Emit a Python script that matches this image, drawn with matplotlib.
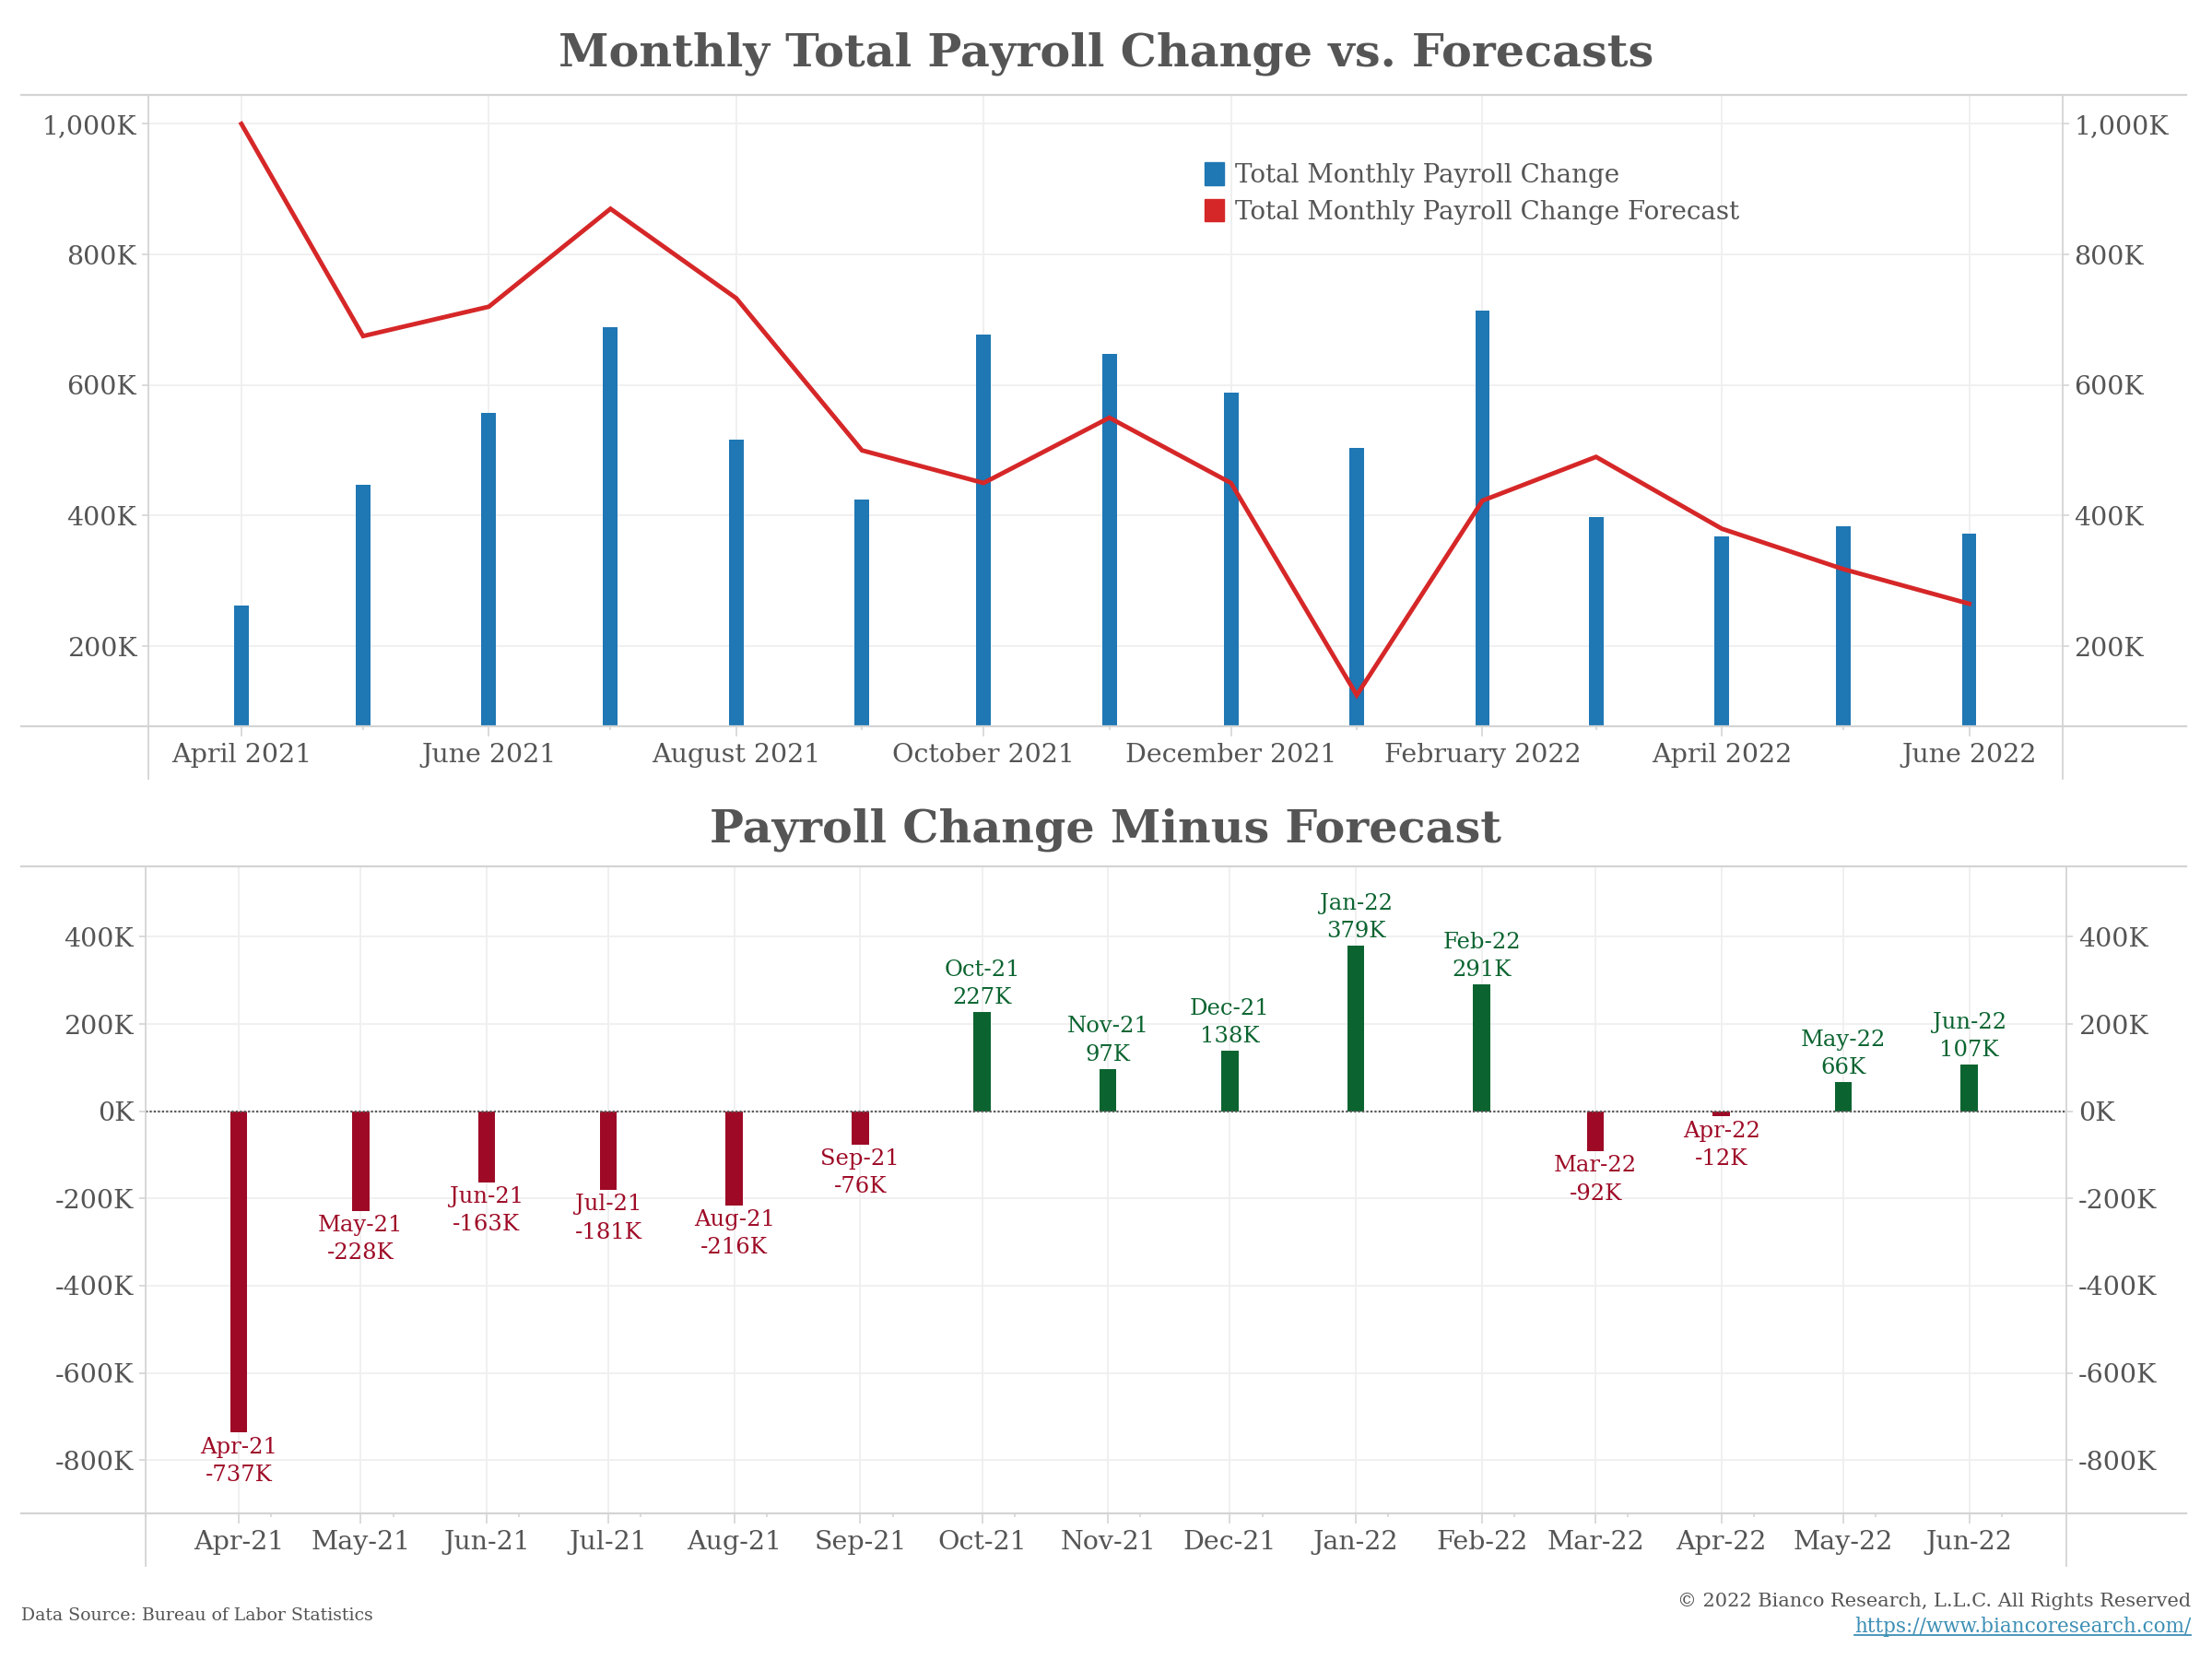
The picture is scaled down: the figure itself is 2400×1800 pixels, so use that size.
import datetime as dt
import matplotlib
matplotlib.use('Agg')
import matplotlib.pyplot as plt
import matplotlib.dates as mdates
from matplotlib.patches import Patch
from matplotlib.lines import Line2D
from matplotlib.ticker import FuncFormatter

plt.rcParams['font.family'] = ['DejaVu Serif']

# data (thousands of jobs)
month_strs = ['2021-04', '2021-05', '2021-06', '2021-07', '2021-08', '2021-09',
              '2021-10', '2021-11', '2021-12', '2022-01', '2022-02', '2022-03',
              '2022-04', '2022-05', '2022-06']
actual = [263, 447, 557, 689, 517, 424, 677, 647, 588, 504, 714, 398, 368, 384, 372]
forecast = [1000, 675, 720, 870, 733, 500, 450, 550, 450, 125, 423, 490, 380, 318, 265]
diff = [-737, -228, -163, -181, -216, -76, 227, 97, 138, 379, 291, -92, -12, 66, 107]

dates = [dt.datetime.strptime(s, '%Y-%m') for s in month_strs]

BLUE = '#1f77b4'
RED = '#d62728'
NEG = '#9e0a26'
POS = '#0b6430'
TEXT = '#555555'
GRID = '#efefef'
AXIS = '#d4d4d4'
LINK = '#3d8fb5'

W, H = 1568.0, 1176.0  # layout reference size


def fx(x):
    return x / W


def fy(y):
    return 1 - y / H


def kfmt(v, pos):
    return '{:,}K'.format(int(round(v)))


fig = plt.figure(figsize=(24, 18), dpi=100)
fig.patch.set_facecolor('white')

# ---------- top chart ----------
ax1 = fig.add_axes([fx(105), fy(515), fx(1462) - fx(105), fy(67) - fy(515)])
ax1.bar(dates, actual, width=3.6, color=BLUE, zorder=2)
ax1.plot(dates, forecast, color=RED, lw=3.5, zorder=3, solid_joinstyle='miter')
ax1.set_ylim(77, 1045)
ax1.set_xlim(dt.datetime(2021, 3, 9), dt.datetime(2022, 6, 24))
ax1.set_yticks([200, 400, 600, 800, 1000])
ax1.yaxis.set_major_formatter(FuncFormatter(kfmt))
ax1.xaxis.set_major_locator(mdates.MonthLocator(bymonth=[2, 4, 6, 8, 10, 12]))
ax1.xaxis.set_minor_locator(mdates.MonthLocator(bymonth=[1, 3, 5, 7, 9, 11]))
ax1.xaxis.set_major_formatter(mdates.DateFormatter('%B %Y'))
ax1.grid(True, which='major', color=GRID, lw=1.3)
ax1.set_axisbelow(True)
for s in ax1.spines.values():
    s.set_visible(False)
ax1.tick_params(axis='y', left=True, right=True, labelleft=True, labelright=True,
                length=5, width=1.2, color=AXIS, labelsize=20.5, labelcolor=TEXT, pad=4)
ax1.tick_params(axis='x', which='major', length=8, width=1.2, color=AXIS,
                labelsize=20.5, labelcolor=TEXT, pad=5)
ax1.tick_params(axis='x', which='minor', length=3, width=1.2, color=AXIS)

ax1.legend(handles=[Patch(color=BLUE, label='Total Monthly Payroll Change'),
                    Patch(color=RED, label='Total Monthly Payroll Change Forecast')],
           loc='upper left', bbox_to_anchor=(fx(854), fy(115)),
           bbox_transform=fig.transFigure, frameon=False, fontsize=20,
           handlelength=0.75, handleheight=1.0, handletextpad=0.45,
           labelspacing=0.42, borderpad=0, borderaxespad=0, labelcolor=TEXT)

fig.text(0.5, fy(38), 'Monthly Total Payroll Change vs. Forecasts', ha='center',
         va='center', fontsize=35.5, fontweight='bold', color=TEXT)

# ---------- bottom chart ----------
ax2 = fig.add_axes([fx(103), fy(1073), fx(1465) - fx(103), fy(614) - fy(1073)])
bar_colors = [POS if d > 0 else NEG for d in diff]
ax2.bar(dates, diff, width=4.2, color=bar_colors, zorder=2)
ax2.axhline(0, color='#5a5a5a', lw=1.6, ls=(0, (1, 1)), zorder=3)
for d, v, c in zip(dates, diff, bar_colors):
    lab = d.strftime('%b-%y') + '\n' + '{}K'.format(v)
    if v > 0:
        ax2.annotate(lab, (d, v), xytext=(0, 3), textcoords='offset points',
                     ha='center', va='bottom', fontsize=17.5, color=c, linespacing=1.4)
    else:
        ax2.annotate(lab, (d, v), xytext=(0, -3), textcoords='offset points',
                     ha='center', va='top', fontsize=17.5, color=c, linespacing=1.4)
ax2.set_ylim(-923, 562)
ax2.set_xlim(dt.datetime(2021, 3, 9), dt.datetime(2022, 6, 25))
ax2.set_yticks([-800, -600, -400, -200, 0, 200, 400])
ax2.yaxis.set_major_formatter(FuncFormatter(kfmt))
ax2.xaxis.set_major_locator(mdates.MonthLocator())
ax2.xaxis.set_minor_locator(mdates.DayLocator(bymonthday=9))
ax2.xaxis.set_major_formatter(mdates.DateFormatter('%b-%y'))
ax2.grid(True, which='major', color=GRID, lw=1.3)
ax2.set_axisbelow(True)
for s in ax2.spines.values():
    s.set_visible(False)
ax2.tick_params(axis='y', left=True, right=True, labelleft=True, labelright=True,
                length=5, width=1.2, color=AXIS, labelsize=20.5, labelcolor=TEXT, pad=4)
ax2.tick_params(axis='x', which='major', length=8, width=1.2, color=AXIS,
                labelsize=20.5, labelcolor=TEXT, pad=5)
ax2.tick_params(axis='x', which='minor', length=3, width=1.2, color=AXIS)

fig.text(0.5, fy(588), 'Payroll Change Minus Forecast', ha='center',
         va='center', fontsize=35.5, fontweight='bold', color=TEXT)

# ---------- pane borders ----------
for y in [67, 515, 614, 1073]:
    fig.add_artist(Line2D([fx(15), fx(1550)], [fy(y), fy(y)], color=AXIS, lw=1.6))
for x in [105, 1462]:
    fig.add_artist(Line2D([fx(x), fx(x)], [fy(67), fy(552)], color=AXIS, lw=1.3))
for x in [103, 1465]:
    fig.add_artist(Line2D([fx(x), fx(x)], [fy(614), fy(1110)], color=AXIS, lw=1.3))

# ---------- footer ----------
fig.text(fx(15), fy(1145), 'Data Source: Bureau of Labor Statistics', ha='left',
         va='center', fontsize=13.6, color=TEXT)
fig.text(fx(1553), fy(1135), '\u00a9 2022 Bianco Research, L.L.C. All Rights Reserved',
         ha='right', va='center', fontsize=15, color=TEXT)
link = fig.text(fx(1553), fy(1153), 'https://www.biancoresearch.com/', ha='right',
                va='center', fontsize=15.5, color=LINK)
fig.canvas.draw()
bb = link.get_window_extent().transformed(fig.transFigure.inverted())
fig.add_artist(Line2D([bb.x0, bb.x1], [bb.y0 + 0.001, bb.y0 + 0.001], color=LINK, lw=1.3))

fig.savefig('out.png', dpi=100)
